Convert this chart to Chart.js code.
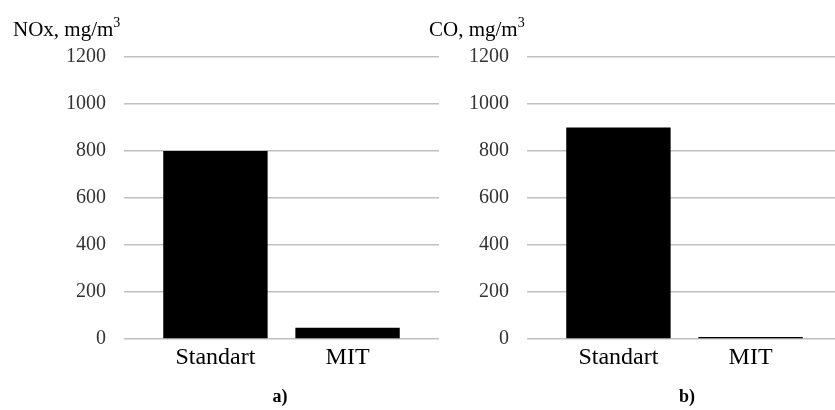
<!DOCTYPE html>
<html lang="en">
<head>
<meta charset="UTF-8">
<title>NOx and CO emissions — Standart vs MIT</title>
<style>
  *{box-sizing:border-box;margin:0;padding:0}
  html,body{width:835px;height:410px;overflow:hidden;background:#fff}
  body{position:relative;font-family:"Liberation Serif","Times New Roman",serif;color:#000}
  .box{position:absolute;top:0;width:450px;height:410px}
  .ttl{position:absolute;font-size:21px;line-height:1;white-space:nowrap}
  .ttl sup{font-size:14px;position:relative;top:-3px;vertical-align:top;line-height:1}
  .cap{position:absolute;font-size:18px;font-weight:bold;line-height:1;transform:translateX(-50%)}
</style>
</head>
<body>

<div class="box" style="left:0"><canvas id="noxChart" width="450" height="410"></canvas></div>
<div class="box" style="left:403px"><canvas id="coChart" width="450" height="410"></canvas></div>

<div class="ttl" style="left:13px;top:19px">NOx, mg/m<sup>3</sup></div>
<div class="ttl" style="left:429px;top:19px">CO, mg/m<sup>3</sup></div>
<div class="cap" style="left:280px;top:387px">a)</div>
<div class="cap" style="left:687px;top:387px">b)</div>

<script src="https://cdn.jsdelivr.net/npm/chart.js@4.4.0"></script>
<script>
/* categories and values */
const cats = ["Standart","MIT"];
const noxVals = [800, 48];
const coVals = [900, 8];
const yMax = 1200, yStep = 200;

function panel(id, vals){
  new Chart(document.getElementById(id),{
    type:'bar',
    data:{datasets:[{
      data:vals.map((v,i)=>({x:i,y:v})),
      backgroundColor:'#000',borderColor:'#000',borderWidth:0,
      barPercentage:0.79,categoryPercentage:1
    }]},
    options:{
      responsive:false,animation:false,
      layout:{padding:{top:57,right:11,left:0,bottom:0}},
      plugins:{legend:{display:false},tooltip:{enabled:false}},
      scales:{
        x:{type:'linear',min:-0.692,max:1.692,offset:false,
          afterBuildTicks:s=>{s.ticks=cats.map((c,i)=>({value:i}));},
          afterFit:s=>{s.height=71;},
          grid:{display:false,offset:false},border:{display:false},
          ticks:{padding:-4,maxRotation:0,autoSkip:false,color:'#000',
            font:{family:'"Liberation Serif"',size:24},
            callback:v=>cats[v]}},
        y:{min:0,max:yMax,
          afterFit:s=>{s.width=124;},
          grid:{color:'#c0c0c0',lineWidth:1.6,drawTicks:false},
          border:{display:false},
          ticks:{stepSize:yStep,padding:18,color:'#333',
            font:{family:'"Liberation Serif"',size:20},
            callback:v=>String(v)}}
      }
    }
  });
}

panel('noxChart', noxVals);
panel('coChart', coVals);
</script>

</body>
</html>
